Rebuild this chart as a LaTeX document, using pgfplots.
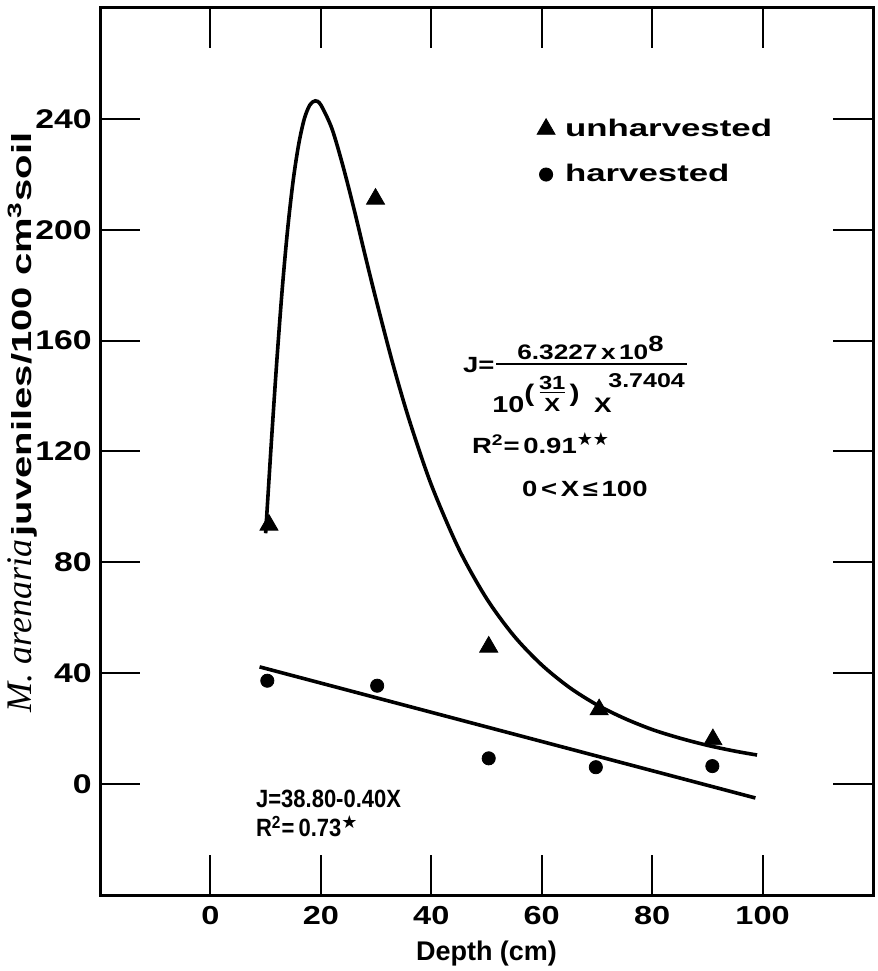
\documentclass[border=0pt]{standalone}
\usepackage{fontspec}
\setmainfont{Liberation Sans}
\newfontfamily\ext[FakeStretch=1.25]{Liberation Sans}
\newfontfamily\extw[FakeStretch=1.45]{Liberation Sans}
\newfontfamily\cond[FakeStretch=0.88]{Liberation Sans}
\newfontfamily\tim{Liberation Serif}
\newfontfamily\dv{DejaVu Sans}
\usepackage{pgfplots}
\pgfplotsset{compat=1.18}
\usetikzlibrary{calc}

\pgfplotstableread{
x y
10.6 93.5
29.9 211.1
50.4 49.5
70.4 26.9
91.0 16.1
}\unharv
\pgfplotstableread{
x y
10.3 37.3
30.2 35.5
50.4 9.3
69.8 6.1
90.9 6.5
}\harv

\begin{document}
\begin{tikzpicture}
\begin{axis}[
  name=ax,
  scale only axis,
  width=386.5pt, height=443.5pt,
  xmin=-20, xmax=120, ymin=-40, ymax=280,
  axis line style={line width=1.5pt},
  xtick={0,20,...,100}, ytick={0,40,...,240},
  tick align=inside, major tick length=20pt,
  tick style={line width=1pt, black},
  xticklabel pos=lower, yticklabel pos=left,
  /pgf/number format/assume math mode=true,
  xticklabel style={font=\ext\bfseries\fontsize{13}{13}\selectfont, anchor=north, inner sep=0pt, yshift=-5.5pt},
  yticklabel style={font=\ext\bfseries\fontsize{13.5}{13.5}\selectfont, anchor=east, inner sep=0pt, xshift=-4pt},
  xlabel={Depth (cm)},
  xlabel style={font=\bfseries\fontsize{13.5}{13.5}\selectfont, at={(axis description cs:0.5,0)}, anchor=center, yshift=-29.5pt},
  clip=false,
  legend style={at={(axis cs:58,243)}, anchor=north west, draw=none, fill=none,
     font=\extw\bfseries\fontsize{12}{13}\selectfont, row sep=8.5pt,
     /tikz/every even column/.append style={column sep=6pt}},
  legend cell align=left,
]
\addplot[only marks, mark=triangle*, mark size=5.2pt, black] table {\unharv};
\addlegendentry{\hspace{3pt}unharvested}
\addplot[only marks, mark=*, mark size=3.3pt, black] table {\harv};
\addlegendentry{\hspace{3pt}harvested}

\addplot[line width=1.8pt, black, smooth, forget plot] coordinates {
(10,90.5) (11,122.3) (12,152.0) (13,178.5) (14,200.5) (15,218.0) (16,231.0)
(17,240.0) (18,245.0) (19,246.5) (20,245.0) (22,236.5) (24,223.0) (26,207.5)
(28,190.9) (30,174.8) (33,151.9) (36,131.4) (40,108.0) (45,84.8) (50,67.0)
(55,53.4) (60,43.0) (65,34.9) (70,28.6) (75,23.7) (80,19.7) (85,16.6)
(90,14.0) (95,11.9) (99,10.5)};
\addplot[line width=1.8pt, black, forget plot] coordinates {(8.9,42.3) (98.7,-5.0)};

% fitted equations
\node[font=\ext\bfseries\fontsize{11}{11}\selectfont, anchor=base west] at (axis cs:44.5,148.5) {J=};
\draw[line width=0.7pt] (axis cs:51.8,151.6) -- (axis cs:86.4,151.6);
\node[font=\ext\bfseries\fontsize{10.5}{10.5}\selectfont, anchor=base west, inner sep=0pt] at (axis cs:55.5,153.3) {6.3227\,x\,10\textsuperscript{\fontsize{11}{11}\selectfont 8}};
\node[font=\ext\bfseries\fontsize{11.5}{11.5}\selectfont, anchor=base west, inner sep=0pt] at (axis cs:51.0,134) {10};
\node[font=\ext\bfseries\fontsize{12}{12}\selectfont, anchor=base west, inner sep=0pt] at (axis cs:56.8,138.0) {(};
\node[font=\ext\bfseries\fontsize{9.5}{9.5}\selectfont, anchor=base, inner sep=0pt] at (axis cs:61.9,142.3) {31};
\draw[line width=0.5pt] (axis cs:59.6,141.2) -- (axis cs:64.2,141.2);
\node[font=\ext\bfseries\fontsize{9.5}{9.5}\selectfont, anchor=base, inner sep=0pt] at (axis cs:61.9,134.6) {X};
\node[font=\ext\bfseries\fontsize{12}{12}\selectfont, anchor=base west, inner sep=0pt] at (axis cs:65.0,138.0) {)};
\node[font=\ext\bfseries\fontsize{10.5}{10.5}\selectfont, anchor=base west, inner sep=0pt] at (axis cs:69.4,134) {X};
\node[font=\ext\bfseries\fontsize{10}{10}\selectfont, anchor=base west, inner sep=0pt] at (axis cs:72.0,143) {3.7404};
\node[font=\ext\bfseries\fontsize{11}{11}\selectfont, anchor=base west, inner sep=0pt] at (axis cs:47.3,119.4) {R\textsuperscript{2}=\,0.91\textsuperscript{\dv\fontsize{9}{9}\selectfont ★★}};
\node[font=\ext\bfseries\fontsize{11}{11}\selectfont, anchor=base west, inner sep=0pt] at (axis cs:56.4,103.6) {0\,<\,X\,≤\,100};
\node[font=\cond\bfseries\fontsize{12.5}{12.5}\selectfont, anchor=base west, inner sep=0pt] at (axis cs:8.2,-8.5) {J=38.80-0.40X};
\node[font=\cond\bfseries\fontsize{12.5}{12.5}\selectfont, anchor=base west, inner sep=0pt] at (axis cs:8.2,-19.0) {R\textsuperscript{2}=\,0.73\textsuperscript{\dv\fontsize{9}{9}\selectfont ★}};

% y label
\node[rotate=90, anchor=base, inner sep=0pt] at (axis cs:-32.4,130.5) {{\tim\itshape\fontsize{18}{18}\selectfont M. arenaria}\,{\extw\bfseries\fontsize{13.8}{13.8}\selectfont juveniles/100 cm\textsuperscript{3}soil}};
\end{axis}
\pgfresetboundingbox
\useasboundingbox ($(ax.south west)+(-50pt,-38pt)$) rectangle ($(ax.north east)+(2pt,4pt)$);
\end{tikzpicture}
\end{document}
